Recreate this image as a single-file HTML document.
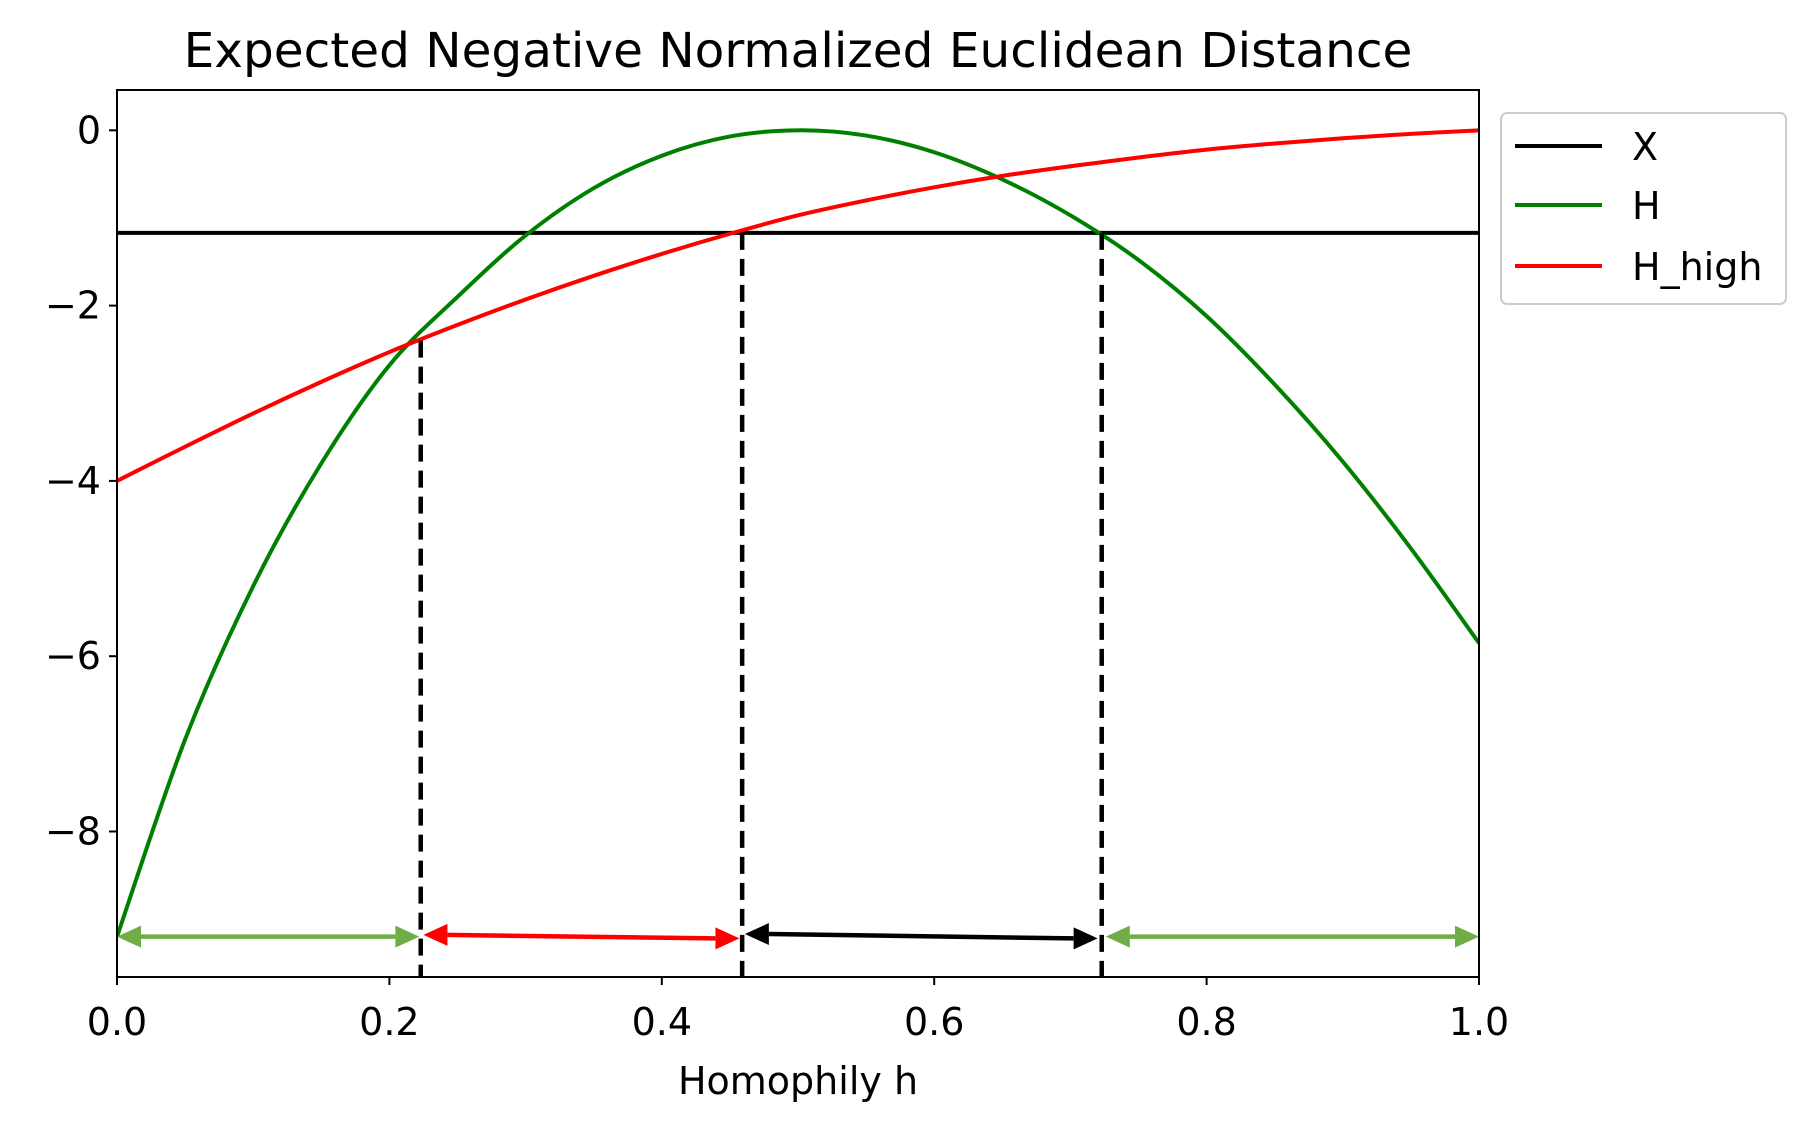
<!DOCTYPE html>
<html><head><meta charset="utf-8"><style>
html,body{margin:0;padding:0;background:#fff;}
svg{display:block;font-family:"DejaVu Sans","Liberation Sans",sans-serif;}
</style></head><body>
<svg id="chart" width="1819" height="1132" viewBox="0 0 1819 1132" xmlns="http://www.w3.org/2000/svg">
<rect x="0" y="0" width="1819" height="1132" fill="#fff"/>
<text x="798" y="67" font-size="48.5" text-anchor="middle" fill="#000">Expected Negative Normalized Euclidean Distance</text>
<g id="plot"></g>
<text x="798" y="1094" font-size="38" text-anchor="middle">Homophily h</text>
<g>
<rect x="1501" y="113" width="285" height="191" rx="6" fill="#fff" stroke="#ccc" stroke-width="2"/>
<line x1="1515" y1="146" x2="1602" y2="146" stroke="#000" stroke-width="4"/>
<text x="1632" y="160" font-size="38">X</text>
<line x1="1515" y1="205" x2="1602" y2="205" stroke="#008000" stroke-width="4"/>
<text x="1632" y="219" font-size="38">H</text>
<line x1="1515" y1="266" x2="1602" y2="266" stroke="#ff0000" stroke-width="4"/>
<text x="1632" y="280" font-size="38">H_high</text>
</g>
</svg>
<script>
const hValues=[0,0.05,0.1,0.15,0.2,0.25,0.3,0.35,0.4,0.45,0.5,0.55,0.6,0.65,0.7,0.75,0.8,0.85,0.9,0.95,1.0];
const seriesH=[-9.2,-6.95,-5.2,-3.8,-2.68,-1.9,-1.2,-0.66,-0.29,-0.07,0,-0.06,-0.25,-0.56,-0.97,-1.48,-2.12,-2.9,-3.78,-4.77,-5.85];
const seriesHigh=[-4.0,-3.61,-3.23,-2.87,-2.53,-2.22,-1.93,-1.66,-1.41,-1.18,-0.97,-0.8,-0.65,-0.52,-0.41,-0.31,-0.22,-0.15,-0.09,-0.04,0];
const seriesX=-1.17;
const vlinesX=[0.223,0.459,0.723];
const vlinesTop=[-2.4,-1.17,-1.17];
const arrowStart=[0.0,0.225,0.461,0.726];
const arrowEnd=[0.222,0.457,0.72,1.0];
const arrowY1=[-9.2,-9.18,-9.17,-9.2];
const arrowY2=[-9.2,-9.22,-9.22,-9.2];
const arrowColors=['#70ad47','#ff0000','#000000','#70ad47'];
const xTicks=[0,0.2,0.4,0.6,0.8,1.0];
const xTickLabels=['0.0','0.2','0.4','0.6','0.8','1.0'];
const yTicks=[0,-2,-4,-6,-8];
const yTickLabels=['0','\u22122','\u22124','\u22126','\u22128'];
const L=117,R=1479,T=90,B=977,ymin=-9.66,ymax=0.46;
const sx=v=>L+(R-L)*v;
const sy=v=>T+(B-T)*(ymax-v)/(ymax-ymin);
const NS='http://www.w3.org/2000/svg';
const g=document.getElementById('plot');
function mk(t,a){const e=document.createElementNS(NS,t);for(const k in a)e.setAttribute(k,a[k]);g.appendChild(e);return e;}
const defs=mk('defs',{});const cp=document.createElementNS(NS,'clipPath');cp.setAttribute('id','clip');
const cr=document.createElementNS(NS,'rect');cr.setAttribute('x',L);cr.setAttribute('y',T);cr.setAttribute('width',R-L);cr.setAttribute('height',B-T);cp.appendChild(cr);defs.appendChild(cp);
let e=mk('line',{x1:sx(0),x2:sx(1),y1:sy(seriesX),y2:sy(seriesX),stroke:'#000','stroke-width':4,'clip-path':'url(#clip)'});


function path(vals,color,name){
  const pts=hValues.map((h,i)=>[sx(h),sy(vals[i])]);
  let d='M'+pts[0][0]+','+pts[0][1];
  for(let i=0;i<pts.length-1;i++){
    const p0=pts[Math.max(0,i-1)],p1=pts[i],p2=pts[i+1],p3=pts[Math.min(pts.length-1,i+2)];
    const c1=[p1[0]+(p2[0]-p0[0])/6,p1[1]+(p2[1]-p0[1])/6];
    const c2=[p2[0]-(p3[0]-p1[0])/6,p2[1]-(p3[1]-p1[1])/6];
    d+=' C'+c1[0]+','+c1[1]+' '+c2[0]+','+c2[1]+' '+p2[0]+','+p2[1];
  }
  const el=mk('path',{d:d,fill:'none',stroke:color,'stroke-width':4,'clip-path':'url(#clip)'});
  
  
}
path(seriesH,'#008000','line-h');
path(seriesHigh,'#ff0000','line-h-high');
vlinesX.forEach((x,i)=>{
  const el=mk('line',{x1:sx(x),x2:sx(x),y1:sy(vlinesTop[i]),y2:B,stroke:'#000','stroke-width':4.5,'stroke-dasharray':'17,9'});
  
  
});
arrowStart.forEach((s,i)=>{
  const x1=sx(s),x2=sx(arrowEnd[i]),y1=sy(arrowY1[i]),y2=sy(arrowY2[i]),c=arrowColors[i],hl=24,hw=11;
  const grp=mk('g',{});
  
  
  const ln=document.createElementNS(NS,'line');
  [['x1',x1+hl],['x2',x2-hl],['y1',y1],['y2',y2],['stroke',c],['stroke-width',4.5]].forEach(a=>ln.setAttribute(a[0],a[1]));grp.appendChild(ln);
  const p1=document.createElementNS(NS,'polygon');p1.setAttribute('points',`${x1},${y1} ${x1+hl},${y1-hw} ${x1+hl},${y1+hw}`);p1.setAttribute('fill',c);grp.appendChild(p1);
  const p2=document.createElementNS(NS,'polygon');p2.setAttribute('points',`${x2},${y2} ${x2-hl},${y2-hw} ${x2-hl},${y2+hw}`);p2.setAttribute('fill',c);grp.appendChild(p2);
});
mk('rect',{x:L,y:T,width:R-L,height:B-T,fill:'none',stroke:'#000','stroke-width':2});
xTicks.forEach((t,i)=>{
  mk('line',{x1:sx(t),x2:sx(t),y1:B,y2:B+8,stroke:'#000','stroke-width':2});
  const tx=mk('text',{x:sx(t),y:B+58,'font-size':38,'text-anchor':'middle'});tx.textContent=xTickLabels[i];
  
  
});
yTicks.forEach((t,i)=>{
  mk('line',{x1:L-8,x2:L,y1:sy(t),y2:sy(t),stroke:'#000','stroke-width':2});
  const tx=mk('text',{x:L-16,y:sy(t)+13,'font-size':38,'text-anchor':'end'});tx.textContent=yTickLabels[i];
  
  
});
</script>
</body></html>
